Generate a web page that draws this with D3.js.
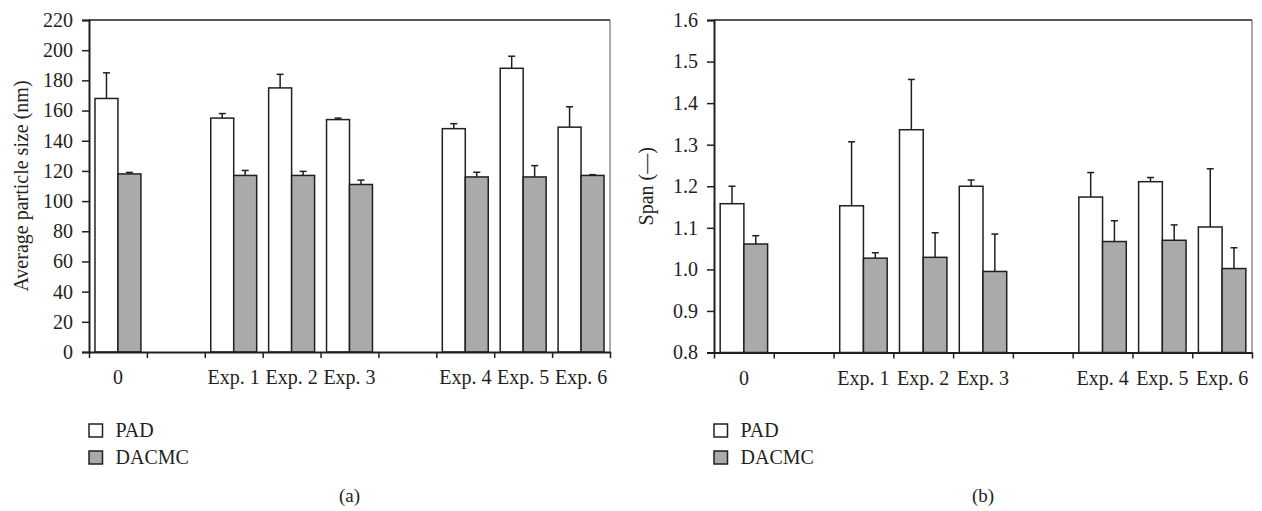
<!DOCTYPE html>
<html>
<head>
<meta charset="utf-8">
<script src="https://cdn.jsdelivr.net/npm/d3@7"></script>
<style>
  body { margin: 0; background: #fff; }
  svg { display: block; font-family: "Liberation Serif", "DejaVu Serif", serif; }
  text { fill: #231f20; }
</style>
</head>
<body>
<div id="chart"></div>
<script>
// categories (blank slots keep the gaps between groups)
const slots = ["0", "_a", "Exp. 1", "Exp. 2", "Exp. 3", "_c", "Exp. 4", "Exp. 5", "Exp. 6"];
const categories = ["0", "Exp. 1", "Exp. 2", "Exp. 3", "Exp. 4", "Exp. 5", "Exp. 6"];
const series = ["PAD", "DACMC"];

// panel (a): average particle size (nm)
const sizePAD = [168, 155, 175, 154, 148, 188, 149];
const sizePADErr = [17, 3, 9, 1, 3.3, 8, 13.5];
const sizeDACMC = [118, 117, 117, 111, 116, 116, 117];
const sizeDACMCErr = [1, 3.3, 2.7, 2.9, 3.1, 7.5, 0.5];
const sizeTicks = d3.range(0, 221, 20);

// panel (b): span
const spanPAD = [1.158, 1.153, 1.336, 1.200, 1.174, 1.211, 1.102];
const spanPADErr = [0.042, 0.154, 0.121, 0.015, 0.059, 0.010, 0.140];
const spanDACMC = [1.061, 1.027, 1.029, 0.995, 1.067, 1.070, 1.002];
const spanDACMCErr = [0.020, 0.013, 0.059, 0.090, 0.050, 0.037, 0.050];
const spanTicks = d3.range(8, 17).map(d => d / 10);

const WIDTH = 1262, HEIGHT = 511;
const INK = "#231f20";
const GREY = "#aaaaaa";

const svg = d3.select("#chart").append("svg")
  .attr("width", WIDTH)
  .attr("height", HEIGHT);

function panel(opts) {
  const { left, right, top, bottom, domain, ticks, fmt, title, titleX, pad, padErr, dac, dacErr, tag } = opts;
  const g = svg.append("g");

  const x = d3.scaleBand().domain(slots).range([left, right]);
  const xi = d3.scaleBand().domain(series).range([0, x.bandwidth()]).paddingOuter(0.26);
  const xEdge = d3.scaleLinear().domain([0, slots.length]).range([left, right]);
  const y = d3.scaleLinear().domain(domain).range([bottom, top]);

  // frame top and right
  g.append("line").attr("x1", left).attr("x2", right).attr("y1", top).attr("y2", top)
    .attr("stroke", INK).attr("stroke-width", 1.3);
  g.append("line").attr("x1", right).attr("x2", right).attr("y1", top).attr("y2", bottom)
    .attr("stroke", "#555").attr("stroke-width", 1);

  const rows = categories.map((c, i) => ({ c, vals: [
    { s: "PAD", v: pad[i], e: padErr[i] },
    { s: "DACMC", v: dac[i], e: dacErr[i] }
  ] }));

  const grp = g.selectAll(".grp").data(rows).enter().append("g")
    .attr("transform", d => `translate(${x(d.c)},0)`);

  // error bars (upper only)
  const eb = grp.selectAll(".eb").data(d => d.vals).enter().append("g")
    .attr("stroke", INK).attr("stroke-width", 1.5);
  eb.append("line")
    .attr("x1", d => xi(d.s) + xi.bandwidth() / 2)
    .attr("x2", d => xi(d.s) + xi.bandwidth() / 2)
    .attr("y1", d => y(d.v))
    .attr("y2", d => y(d.v + d.e));
  eb.append("line")
    .attr("x1", d => xi(d.s) + xi.bandwidth() / 2 - 3.5)
    .attr("x2", d => xi(d.s) + xi.bandwidth() / 2 + 3.5)
    .attr("y1", d => y(d.v + d.e))
    .attr("y2", d => y(d.v + d.e));

  grp.selectAll("rect").data(d => d.vals).enter().append("rect")
    .attr("x", d => xi(d.s))
    .attr("width", xi.bandwidth())
    .attr("y", d => y(d.v))
    .attr("height", d => y(domain[0]) - y(d.v))
    .attr("fill", d => d.s === "PAD" ? "#fff" : GREY)
    .attr("stroke", INK)
    .attr("stroke-width", 1.5);

  // y axis
  const yAxis = g.append("g").attr("transform", `translate(${left},0)`)
    .call(d3.axisLeft(y).tickValues(ticks).tickFormat(fmt).tickSize(7).tickPadding(9));
  yAxis.select(".domain").attr("stroke", INK).attr("stroke-width", 2);
  yAxis.selectAll(".tick line").attr("stroke", INK).attr("stroke-width", 1.5);
  yAxis.selectAll("text").attr("font-size", 20).attr("font-family", "Liberation Serif").attr("fill", INK);

  // x axis: boundary ticks plus centred labels
  const xTicks = g.append("g").attr("transform", `translate(0,${bottom})`)
    .call(d3.axisBottom(xEdge).ticks(slots.length).tickFormat("").tickSize(6).tickSizeOuter(0));
  xTicks.select(".domain").attr("stroke", INK).attr("stroke-width", 2);
  xTicks.selectAll(".tick line").attr("stroke", INK).attr("stroke-width", 1.5);

  const xLab = g.append("g").attr("transform", `translate(0,${bottom})`)
    .call(d3.axisBottom(x).tickSize(0).tickPadding(18).tickFormat(d => d.startsWith("_") ? "" : d));
  xLab.select(".domain").remove();
  xLab.selectAll("text").attr("font-size", 20).attr("font-family", "Liberation Serif").attr("fill", INK);

  // axis title
  g.append("text")
    .attr("transform", `translate(${titleX},${(top + bottom) / 2}) rotate(-90)`)
    .attr("text-anchor", "middle")
    .attr("font-size", 20)
    .text(title);

  // legend
  const leg = g.selectAll(".leg").data(series).enter().append("g")
    .attr("transform", (d, i) => `translate(${left},${424 + i * 27})`);
  leg.append("rect").attr("width", 13.5).attr("height", 13)
    .attr("fill", d => d === "PAD" ? "#fff" : GREY)
    .attr("stroke", INK).attr("stroke-width", 1.5);
  leg.append("text").attr("x", 26.5).attr("y", 13).attr("font-size", 20).text(d => d);

  // panel tag, centred under the plot
  g.append("text").attr("x", (left + right) / 2).attr("y", 502).attr("text-anchor", "middle")
    .attr("font-size", 19).text(tag);
}

panel({
  left: 89, right: 610, top: 20, bottom: 352,
  domain: [0, 220], ticks: sizeTicks, fmt: d3.format("d"),
  title: "Average particle size (nm)", titleX: 28,
  pad: sizePAD, padErr: sizePADErr, dac: sizeDACMC, dacErr: sizeDACMCErr,
  tag: "(a)"
});

panel({
  left: 714, right: 1252, top: 20, bottom: 352.5,
  domain: [0.8, 1.6], ticks: spanTicks, fmt: d3.format(".1f"),
  title: "Span (\u2014)", titleX: 653,
  pad: spanPAD, padErr: spanPADErr, dac: spanDACMC, dacErr: spanDACMCErr,
  tag: "(b)"
});
</script>
</body>
</html>
